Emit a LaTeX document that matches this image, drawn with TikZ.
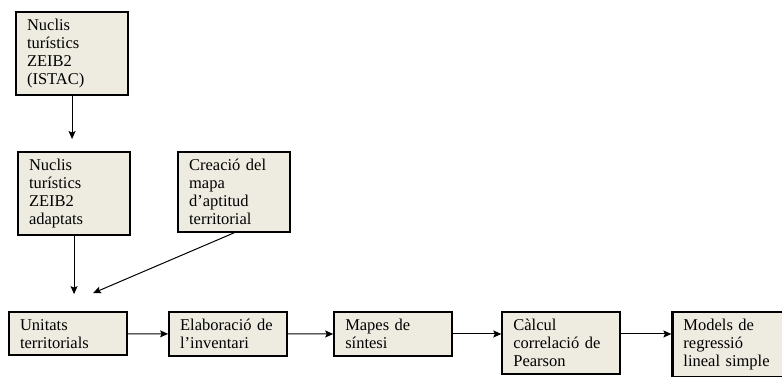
\documentclass[tikz,border=0pt]{standalone}
\usepackage{fontspec}
\setmainfont{Liberation Serif}
\usetikzlibrary{arrows.meta,positioning}
\definecolor{fonscaixa}{HTML}{EEECE1}

\begin{document}
\begin{tikzpicture}[x=1pt,y=-1pt,>={Stealth[length=8pt,width=7pt,inset=1.5pt]},
  caixa/.style={draw,line width=2.1pt,fill=fonscaixa,text width=90pt,align=left,
    inner xsep=11pt,inner ysep=7pt,anchor=north west,
    font=\fontsize{16.5}{18}\selectfont},
  ample/.style={text width=96pt},
  fletxa/.style={->,line width=1pt}]
  \useasboundingbox (0,0) rectangle (782,376);

  \node[caixa] (nuclis) at (15,11) {Nuclis\\turístics\\ZEIB2\\(ISTAC)};
  \node[caixa] (adaptats) [below=55pt of nuclis.south west,anchor=north west,xshift=2pt] {Nuclis\\turístics\\ZEIB2\\adaptats};
  \node[caixa] (aptitud) [right=46pt of adaptats.north east,anchor=north west] {Creació del\\mapa\\d’aptitud\\territorial};

  \node[caixa,ample] (unitats) [below=75pt of adaptats.south west,anchor=north west,xshift=-9pt] {Unitats\\territorials};
  \node[caixa,ample] (inventari) [right=40pt of unitats.north east,anchor=north west] {Elaboració de\\l’inventari};
  \node[caixa,ample] (sintesi) [right=45pt of inventari.north east,anchor=north west] {Mapes de\\síntesi};
  \node[caixa,ample] (pearson) [right=48pt of sintesi.north east,anchor=north west] {Càlcul\\correlació de\\Pearson};
  \node[caixa,ample,text width=110pt] (regressio) [right=50pt of pearson.north east,anchor=north west] {Models de\\regressió\\lineal simple};

  \coordinate (entrada) at (adaptats.south |- unitats.north);
  \coordinate (fi) at ([xshift=19pt,yshift=18pt]entrada);

  \draw[fletxa,shorten >=12pt] (nuclis.south) -- (nuclis.south |- adaptats.north);
  \draw[fletxa,shorten >=17pt] (adaptats.south) -- (entrada);
  \draw[fletxa] (aptitud.south) -- (fi);
  \draw[fletxa] (unitats) -- (inventari);
  \draw[fletxa] (inventari) -- (sintesi);
  \draw[fletxa] (sintesi.east) -- (sintesi.east -| pearson.west);
  \draw[fletxa] (sintesi.east -| pearson.east) -- (sintesi.east -| regressio.west);
\end{tikzpicture}
\end{document}
